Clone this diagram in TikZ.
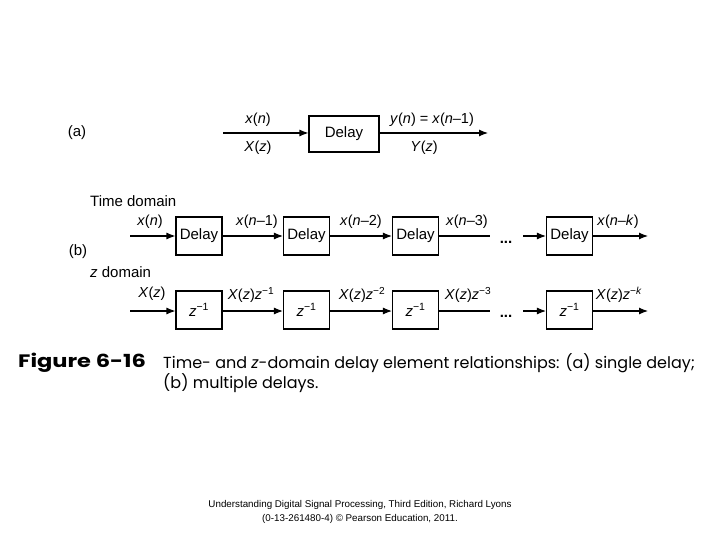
\documentclass[tikz,border=0pt]{standalone}
\usepackage{fontspec}
\setmainfont{Liberation Sans}
\newfontfamily\capfont{Poppins}
\usetikzlibrary{arrows.meta}
\newcommand{\msup}[1]{\textsuperscript{#1}}
\begin{document}
\begin{tikzpicture}[x=1pt,y=-1pt,
  every node/.style={inner sep=0pt,font=\fontsize{15}{18}\selectfont},
  dbox/.style={draw,line width=1.1pt,minimum width=46pt,minimum height=38pt},
  sig/.style={line width=1.1pt,-{Latex[length=9pt,width=7pt]}},
  plain/.style={line width=1.1pt},
  lbl/.style={font=\fontsize{14.5}{17}\selectfont},
  captxt/.style={font=\capfont\fontsize{16}{18}\selectfont,anchor=west},
  foot/.style={font=\fontsize{9.8}{11}\selectfont}]
\useasboundingbox (0,0) rectangle (720,540);
% (a)
\node (la) at (77,133) {(a)};
\coordinate (ain) at (223,133);
\node[dbox,minimum width=70pt,minimum height=36pt] (ad) at (344,134) {Delay};
\coordinate (aout) at (488,133);
\draw[sig] (ain) -- (ad.west |- ain);
\draw[sig] (ad.east |- aout) -- (aout);
\node[lbl] (axn) at (258,120) {\textit{x}(\textit{n})};
\node[lbl] (axz) at (258,148) {\textit{X}(\textit{z})};
\node[lbl] (ayn) at (432,120) {\textit{y}(\textit{n}) = \textit{x}(\textit{n}–1)};
\node[lbl] (ayz) at (424,148) {\textit{Y}(\textit{z})};
% (b) time domain
\node[anchor=west] (td) at (90,201) {Time domain};
\node (lb) at (78,252) {(b)};
\node[anchor=west] (zd) at (90,272) {\textit{z} domain};
\coordinate (t0) at (130,236);
\node[dbox] (t1) at (199,236) {Delay};
\node[dbox] (t2) at (306.5,236) {Delay};
\node[dbox] (t3) at (415.5,236) {Delay};
\coordinate (t3e) at (490,236);
\node (tdots) at (506,242) {\textbf{...}};
\coordinate (t4s) at (523,236);
\node[dbox] (t4) at (569.5,236) {Delay};
\coordinate (t5) at (648,236);
\draw[sig] (t0) -- (t1);
\draw[sig] (t1) -- (t2);
\draw[sig] (t2) -- (t3);
\draw[plain] (t3) -- (t3e);
\draw[sig] (t4s) -- (t4);
\draw[sig] (t4) -- (t5);
\node[lbl] (tl0) at (150,222) {\textit{x}(\textit{n})};
\node[lbl] (tl1) at (257,222) {\textit{x}(\textit{n}–1)};
\node[lbl] (tl2) at (361,222) {\textit{x}(\textit{n}–2)};
\node[lbl] (tl3) at (467,222) {\textit{x}(\textit{n}–3)};
\node[lbl] (tl4) at (618,222) {\textit{x}(\textit{n}–\textit{k})};
% z domain
\coordinate (z0) at (130,311);
\node[dbox] (z1) at (199,310) {\textit{z}\msup{−1}};
\node[dbox] (z2) at (306.5,310) {\textit{z}\msup{−1}};
\node[dbox] (z3) at (415.5,310) {\textit{z}\msup{−1}};
\coordinate (z3e) at (490,311);
\node (zdots) at (506,316) {\textbf{...}};
\coordinate (z4s) at (523,311);
\node[dbox] (z4) at (569.5,310) {\textit{z}\msup{−1}};
\coordinate (z5) at (648,311);
\draw[sig] (z0) -- (z1.west |- z0);
\draw[sig] (z1.east |- z0) -- (z2.west |- z0);
\draw[sig] (z2.east |- z0) -- (z3.west |- z0);
\draw[plain] (z3.east |- z0) -- (z3e);
\draw[sig] (z4s) -- (z4.west |- z4s);
\draw[sig] (z4.east |- z5) -- (z5);
\node[lbl] (zl0) at (152,294) {\textit{X}(\textit{z})};
\node[lbl] (zl1) at (251,295) {\textit{X}(\textit{z})\textit{z}\msup{−1}};
\node[lbl] (zl2) at (362,295) {\textit{X}(\textit{z})\textit{z}\msup{−2}};
\node[lbl] (zl3) at (468,295) {\textit{X}(\textit{z})\textit{z}\msup{−3}};
\node[lbl] (zl4) at (619,295) {\textit{X}(\textit{z})\textit{z}\msup{−\textit{k}}};
% caption
\node[captxt,font=\capfont\bfseries\fontsize{18}{20}\selectfont] (fig) at (18,363) {\scalebox{1.25}[1]{Figure 6-16}};
\node[captxt] (c1) at (163,363) {Time- and \textit{z}-domain delay element relationships: (a) single delay;};
\node[captxt] (c2) at (163,383) {(b) multiple delays.};
% footer
\node[foot] (f1) at (360,505) {Understanding Digital Signal Processing, Third Edition, Richard Lyons};
\node[foot] (f2) at (360,519) {(0-13-261480-4) © Pearson Education, 2011.};
\end{tikzpicture}
\end{document}
